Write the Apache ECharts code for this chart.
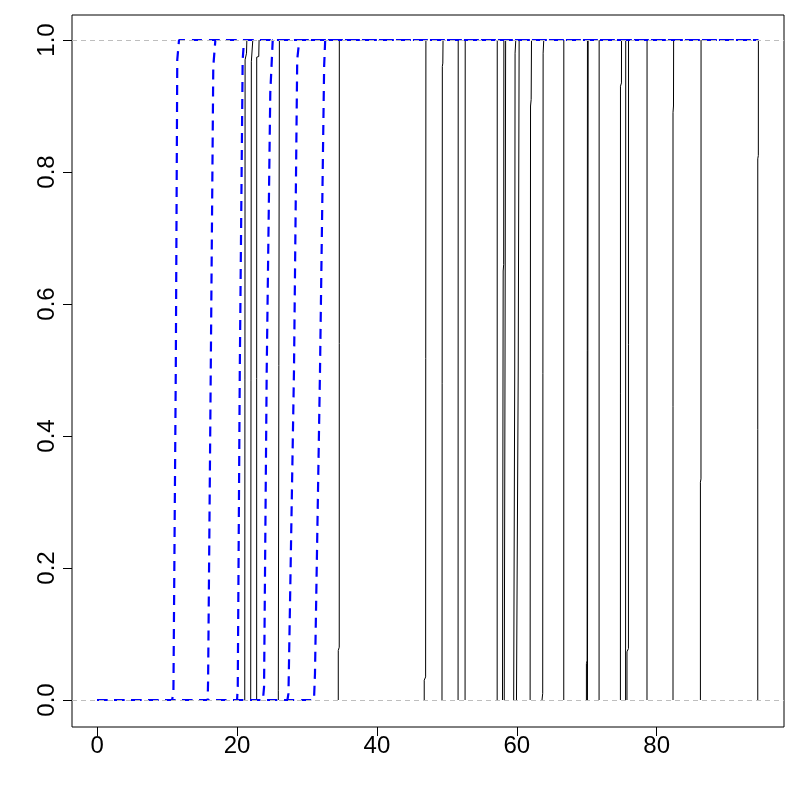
<!DOCTYPE html>
<html>
<head>
<meta charset="utf-8">
<script src="https://cdn.jsdelivr.net/npm/echarts@6/dist/echarts.min.js"></script>
<style>html,body{margin:0;padding:0;background:#fff;}#c{width:800px;height:800px;}</style>
</head>
<body>
<div id="c"></div>
<script>
// Tick labels
const xTicks = [0, 20, 40, 60, 80];
const yTicks = [0, 0.2, 0.4, 0.6, 0.8, 1.0];
const refLevels = [0, 1];

// Blue dashed curves [x, y]
const blue1 = [[0,0],[10.7,0],[10.9,0.01],[11.24,0.5],[11.45,0.97],[11.7,1],[94.5,1]];
const blue2 = [[0,0],[15.8,0],[15.86,0.03],[16.24,0.5],[16.6,0.96],[16.9,1],[94.5,1]];
const blue3 = [[0,0],[20.0,0],[20.1,0.02],[20.39,0.5],[20.8,0.97],[21.0,1],[94.5,1]];
const blue4 = [[0,0],[23.7,0],[23.86,0.02],[24.24,0.5],[24.75,0.92],[25.1,1],[94.5,1]];
const blue5 = [[0,0],[27.2,0],[27.35,0.01],[28.14,0.5],[28.6,0.97],[28.9,1],[94.5,1]];
const blue6 = [[0,0],[31.0,0],[31.14,0.04],[31.86,0.5],[32.45,0.96],[32.6,1],[94.5,1]];

// Black solid curves [x, y]
const black01 = [[21.1,0],[21.15,0.97],[21.35,0.98],[21.4,1]];
const black02 = [[21.95,0],[22.04,0.967],[22.2,0.97],[22.25,1]];
const black03 = [[22.8,0],[22.81,0.974],[23.1,0.975],[23.15,1]];
const black04 = [[25.9,0],[25.9,0.014],[26.04,0.015],[26.05,1]];
const black05 = [[34.47,0],[34.47,0.075],[34.61,0.08],[34.62,1]];
const black06 = [[46.76,0],[46.76,0.03],[46.96,0.035],[47.0,1]];
const black07 = [[49.3,0],[49.35,0.96],[49.42,0.965],[49.45,1]];
const black08 = [[51.6,0],[51.62,1]];
const black09 = [[52.6,0],[52.62,1]];
const black10 = [[57.19,0],[57.2,1]];
const black11 = [[57.95,0],[58.05,0.65],[58.12,0.66],[58.15,1]];
const black12 = [[58.2,0],[58.31,0.5],[58.4,1]];
const black13 = [[59.55,0],[59.7,0.5],[59.75,0.98],[59.85,1]];
const black14 = [[59.95,0],[60.2,0.5],[60.33,1]];
const black15 = [[61.9,0],[61.96,0.9],[62.05,0.91],[62.1,1]];
const black16 = [[63.6,0],[63.7,0.01],[63.76,0.98],[63.85,1]];
const black17 = [[66.71,0],[66.72,1]];
const black18 = [[69.95,0],[69.95,0.055],[70.05,0.06],[70.1,1]];
const black19 = [[70.1,0],[70.15,0.5],[70.2,1]];
const black20 = [[71.76,0],[71.77,1]];
const black21 = [[74.81,0],[74.82,0.93],[74.96,0.935],[74.97,1]];
const black22 = [[75.55,0],[75.57,1]];
const black23 = [[75.75,0],[75.75,0.073],[75.96,0.078],[75.97,1]];
const black24 = [[78.61,0],[78.62,1]];
const black25 = [[82.33,0],[82.33,0.89],[82.4,0.9],[82.42,1]];
const black26 = [[86.25,0],[86.25,0.33],[86.33,0.335],[86.34,1]];
const black27 = [[94.45,0],[94.45,0.82],[94.53,0.825],[94.54,1]];

const blackCurves = [black01,black02,black03,black04,black05,black06,black07,black08,black09,black10,
  black11,black12,black13,black14,black15,black16,black17,black18,black19,black20,
  black21,black22,black23,black24,black25,black26,black27];
const blueCurves = [blue1,blue2,blue3,blue4,blue5,blue6];

const FONT = 'Liberation Sans, Arial, sans-serif';
const series = [];
series.push({
  type: 'line', data: [], silent: true, z: 1,
  markLine: {
    silent: true, symbol: 'none', animation: false,
    label: {show: false},
    lineStyle: {color: '#bebebe', type: [5, 4], width: 1},
    data: refLevels.map(v => ({yAxis: v}))
  }
});
blackCurves.forEach(c => series.push({
  type: 'line', data: c, showSymbol: false, symbol: 'none', z: 2,
  lineStyle: {color: '#000000', width: 1}, animation: false
}));
blueCurves.forEach(c => series.push({
  type: 'line', data: c, showSymbol: false, symbol: 'none', z: 3,
  lineStyle: {color: '#0000ff', width: 2.2, type: [10, 7]}, animation: false
}));

const chart = echarts.init(document.getElementById('c'), null, {renderer: 'canvas'});
chart.setOption({
  backgroundColor: '#ffffff',
  animation: false,
  grid: {left: 72, right: 16, top: 15, bottom: 73, show: true, borderColor: '#000', borderWidth: 1, backgroundColor: 'transparent'},
  xAxis: {
    type: 'value', min: -3.6, max: 98.2,
    axisLine: {show: false, onZero: false},
    splitLine: {show: false},
    axisTick: {show: true, inside: false, length: 9, lineStyle: {color: '#000'}, customValues: xTicks},
    axisLabel: {show: true, margin: 7, fontSize: 24, color: '#000', fontFamily: FONT, customValues: xTicks,
      formatter: v => String(v)}
  },
  yAxis: {
    type: 'value', min: -0.0409, max: 1.0379,
    axisLine: {show: false, onZero: false},
    splitLine: {show: false},
    axisTick: {show: true, inside: false, length: 9, lineStyle: {color: '#000'}, customValues: yTicks},
    axisLabel: {show: true, margin: 13, rotate: 90, fontSize: 24, color: '#000', fontFamily: FONT, customValues: yTicks,
      formatter: v => Number(v).toFixed(1)}
  },
  series: series
});
</script>
</body>
</html>
